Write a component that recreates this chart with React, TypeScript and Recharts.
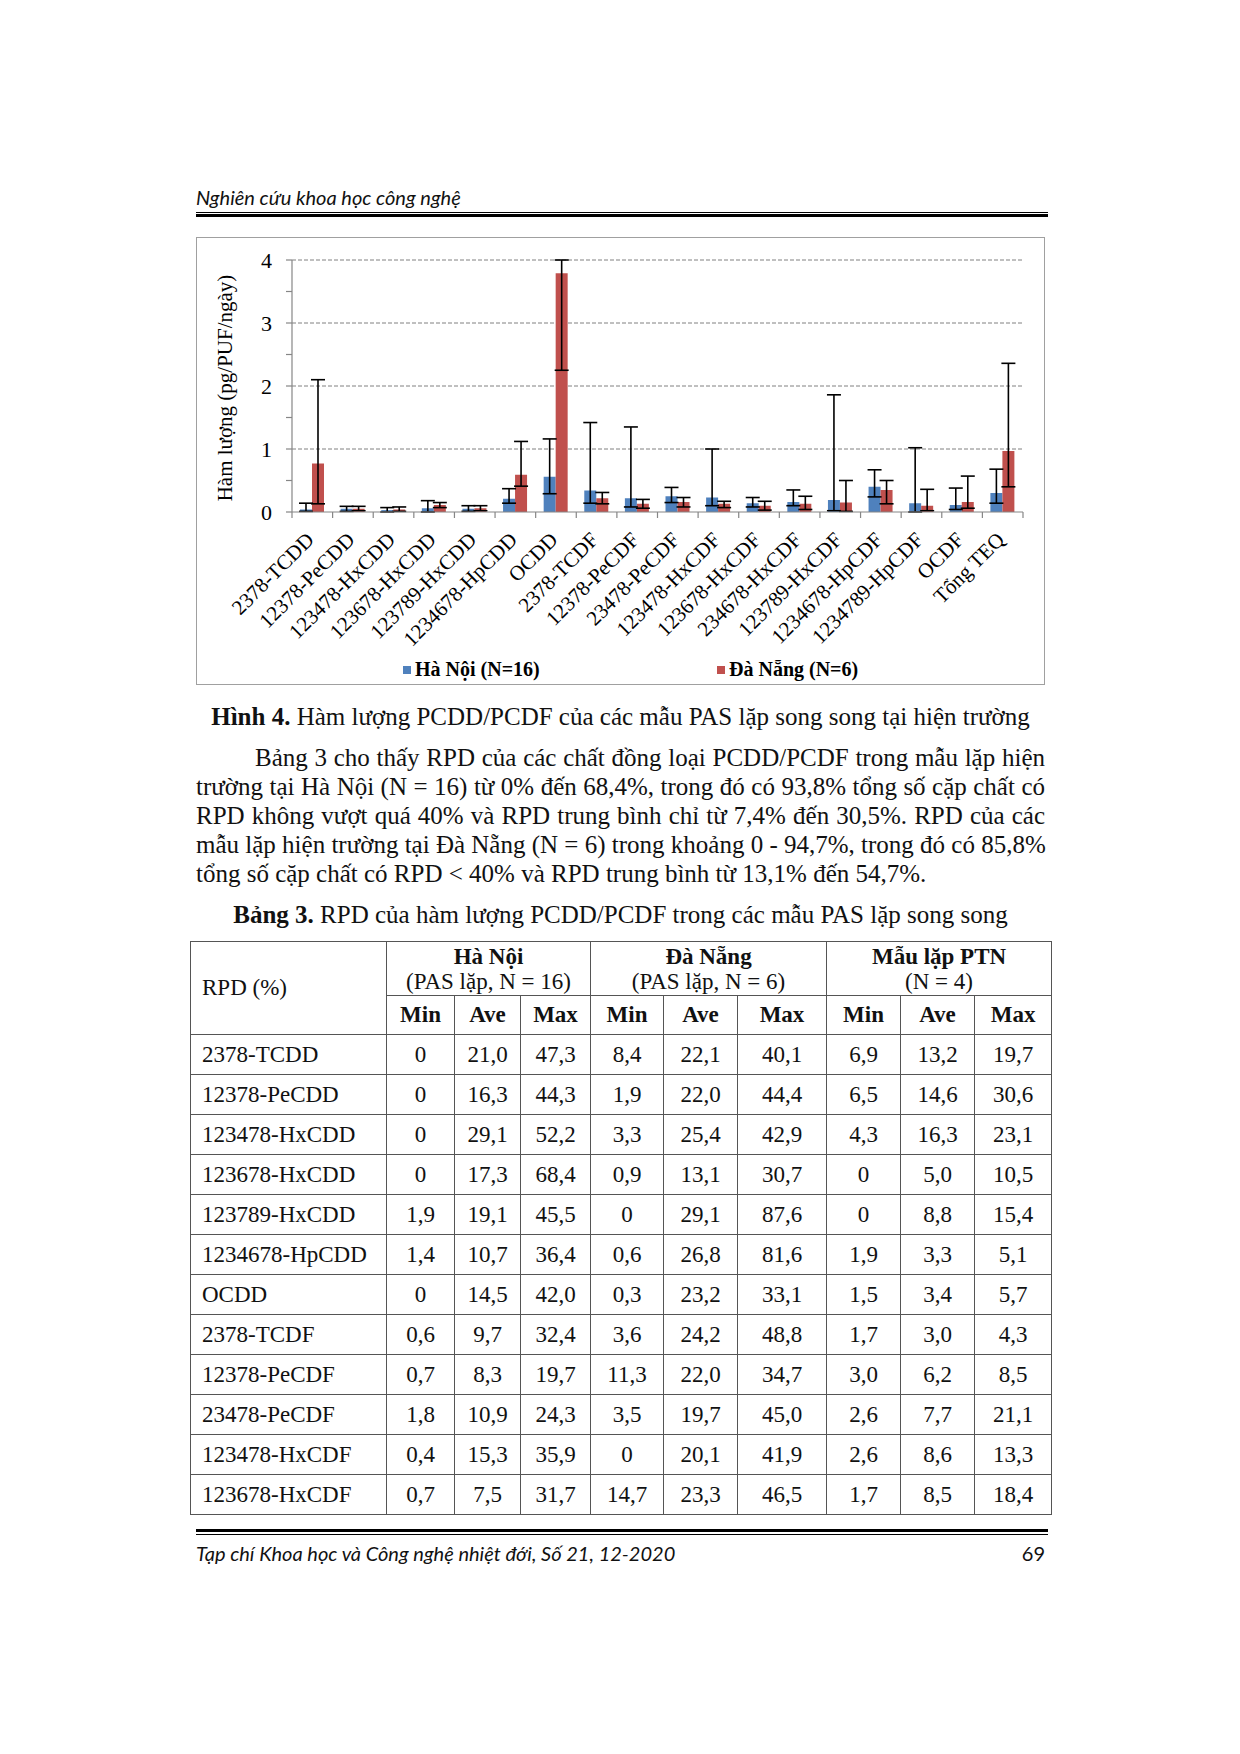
import { BarChart, Bar, XAxis, YAxis, CartesianGrid, ErrorBar, Legend } from "recharts";

const categories = [
  "2378-TCDD", "12378-PeCDD", "123478-HxCDD", "123678-HxCDD", "123789-HxCDD",
  "1234678-HpCDD", "OCDD", "2378-TCDF", "12378-PeCDF", "23478-PeCDF",
  "123478-HxCDF", "123678-HxCDF", "234678-HxCDF", "123789-HxCDF",
  "1234678-HpCDF", "1234789-HpCDF", "OCDF", "Tổng TEQ",
];

// Hà Nội (N=16): mean, lower and upper ends of the error bar
const haNoi = [0.04, 0.05, 0.03, 0.06, 0.05, 0.21, 0.56, 0.34, 0.22, 0.25, 0.23, 0.14, 0.16, 0.19, 0.4, 0.14, 0.11, 0.3];
const haNoiLow = [0.01, 0.01, 0.0, 0.0, 0.01, 0.14, 0.29, 0.14, 0.08, 0.15, 0.1, 0.08, 0.1, 0.02, 0.24, 0.0, 0.04, 0.14];
const haNoiHigh = [0.14, 0.09, 0.07, 0.18, 0.1, 0.37, 1.16, 1.42, 1.35, 0.39, 1.0, 0.23, 0.35, 1.86, 0.67, 1.02, 0.38, 0.68];

// Đà Nẵng (N=6)
const daNang = [0.77, 0.05, 0.04, 0.11, 0.06, 0.59, 3.79, 0.22, 0.13, 0.16, 0.13, 0.1, 0.13, 0.15, 0.35, 0.1, 0.16, 0.97];
const daNangLow = [0.13, 0.02, 0.01, 0.07, 0.02, 0.41, 2.25, 0.13, 0.06, 0.08, 0.07, 0.03, 0.04, 0.01, 0.13, 0.02, 0.06, 0.4];
const daNangHigh = [2.1, 0.09, 0.08, 0.15, 0.1, 1.12, 4.0, 0.31, 0.2, 0.23, 0.17, 0.17, 0.25, 0.5, 0.5, 0.36, 0.57, 2.36];

const yTicks = [0, 0.5, 1, 1.5, 2, 2.5, 3, 3.5, 4];
const gridValues = [1, 2, 3, 4];

const tableLabels = [
  "2378-TCDD", "12378-PeCDD", "123478-HxCDD", "123678-HxCDD", "123789-HxCDD",
  "1234678-HpCDD", "OCDD", "2378-TCDF", "12378-PeCDF", "23478-PeCDF",
  "123478-HxCDF", "123678-HxCDF",
];
const tableHaNoi = [
  ["0", "21,0", "47,3"], ["0", "16,3", "44,3"], ["0", "29,1", "52,2"], ["0", "17,3", "68,4"],
  ["1,9", "19,1", "45,5"], ["1,4", "10,7", "36,4"], ["0", "14,5", "42,0"], ["0,6", "9,7", "32,4"],
  ["0,7", "8,3", "19,7"], ["1,8", "10,9", "24,3"], ["0,4", "15,3", "35,9"], ["0,7", "7,5", "31,7"],
];
const tableDaNang = [
  ["8,4", "22,1", "40,1"], ["1,9", "22,0", "44,4"], ["3,3", "25,4", "42,9"], ["0,9", "13,1", "30,7"],
  ["0", "29,1", "87,6"], ["0,6", "26,8", "81,6"], ["0,3", "23,2", "33,1"], ["3,6", "24,2", "48,8"],
  ["11,3", "22,0", "34,7"], ["3,5", "19,7", "45,0"], ["0", "20,1", "41,9"], ["14,7", "23,3", "46,5"],
];
const tablePTN = [
  ["6,9", "13,2", "19,7"], ["6,5", "14,6", "30,6"], ["4,3", "16,3", "23,1"], ["0", "5,0", "10,5"],
  ["0", "8,8", "15,4"], ["1,9", "3,3", "5,1"], ["1,5", "3,4", "5,7"], ["1,7", "3,0", "4,3"],
  ["3,0", "6,2", "8,5"], ["2,6", "7,7", "21,1"], ["2,6", "8,6", "13,3"], ["1,7", "8,5", "18,4"],
];

const paragraph = [
  "Bảng 3 cho thấy RPD của các chất đồng loại PCDD/PCDF trong mẫu lặp hiện",
  "trường tại Hà Nội (N = 16) từ 0% đến 68,4%, trong đó có 93,8% tổng số cặp chất có",
  "RPD không vượt quá 40% và RPD trung bình chỉ từ 7,4% đến 30,5%. RPD của các",
  "mẫu lặp hiện trường tại Đà Nẵng (N = 6) trong khoảng 0 - 94,7%, trong đó có 85,8%",
  "tổng số cặp chất có RPD < 40% và RPD trung bình từ 13,1% đến 54,7%.",
];

const BLUE = "#4F81BD";
const RED = "#C0504D";
const AXIS = "#868686";
const SERIF = '"Liberation Serif", "Times New Roman", serif';
const SANS = 'Lato, "Open Sans", sans-serif';

const CHART_W = 849;
const CHART_H = 448;
const PLOT_W = 731;
const BAND = PLOT_W / categories.length;

const chartData = categories.map((name, i) => ({
  name,
  haNoi: haNoi[i],
  haNoiErr: [haNoi[i] - haNoiLow[i], haNoiHigh[i] - haNoi[i]],
  daNang: daNang[i],
  daNangErr: [daNang[i] - daNangLow[i], daNangHigh[i] - daNang[i]],
}));

function CategoryTick(props: any) {
  const { x, y, payload, index } = props;
  const last = index === categories.length - 1;
  return (
    <g>
      <line x1={x - BAND / 2} y1={y} x2={x - BAND / 2} y2={y + 6} stroke={AXIS} strokeWidth={1.2} />
      {last && <line x1={x + BAND / 2} y1={y} x2={x + BAND / 2} y2={y + 6} stroke={AXIS} strokeWidth={1.2} />}
      <text
        transform={`translate(${x + 3},${y + 29}) rotate(-45)`}
        textAnchor="end"
        fontSize={21}
        fontFamily={SERIF}
        fill="#000"
      >
        {payload.value}
      </text>
    </g>
  );
}

function YTitle(props: any) {
  const { viewBox } = props;
  const cy = viewBox.y + viewBox.height / 2 + 2;
  return (
    <text
      transform={`translate(36,${cy}) rotate(-90)`}
      textAnchor="middle"
      fontSize={21}
      fontFamily={SERIF}
      fill="#000"
    >
      Hàm lượng (pg/PUF/ngày)
    </text>
  );
}

function LegendBox(props: any) {
  const { payload } = props;
  const lefts = [207, 521];
  return (
    <div style={{ position: "relative", width: CHART_W, height: 40 }}>
      {(payload || []).map((p: any, i: number) => (
        <div
          key={p.value}
          style={{
            position: "absolute",
            left: lefts[i],
            top: 13,
            display: "flex",
            alignItems: "center",
            fontFamily: SERIF,
            fontWeight: "bold",
            fontSize: 20,
            color: "#000",
            whiteSpace: "nowrap",
          }}
        >
          <span style={{ width: 8, height: 8, background: p.color, marginRight: 4, display: "inline-block" }} />
          {p.value}
        </div>
      ))}
    </div>
  );
}

function Chart() {
  return (
    <BarChart
      width={CHART_W}
      height={CHART_H}
      data={chartData}
      margin={{ top: 23, right: 22, left: 0, bottom: 0 }}
      barSize={12}
      barGap={0}
    >
      <CartesianGrid
        vertical={false}
        horizontalValues={gridValues}
        stroke="#808080"
        strokeDasharray="4 2"
      />
      <XAxis
        dataKey="name"
        interval={0}
        height={133}
        axisLine={{ stroke: AXIS, strokeWidth: 1.2 }}
        tickLine={false}
        tickSize={0}
        tickMargin={0}
        tick={<CategoryTick />}
      />
      <YAxis
        width={96}
        domain={[0, 4]}
        ticks={yTicks}
        allowDataOverflow
        tickFormatter={(v: number) => (Number.isInteger(v) ? String(v) : "")}
        axisLine={{ stroke: AXIS, strokeWidth: 1.2 }}
        tickLine={{ stroke: AXIS, strokeWidth: 1.2 }}
        tickSize={6}
        tickMargin={14}
        tick={{ fill: "#000", fontSize: 22, fontFamily: SERIF }}
        label={<YTitle />}
      />
      <Legend verticalAlign="bottom" height={40} content={<LegendBox />} />
      <Bar dataKey="haNoi" name="Hà Nội (N=16)" fill={BLUE} isAnimationActive={false}>
        <ErrorBar dataKey="haNoiErr" direction="y" width={7} stroke="#000" strokeWidth={1.6} />
      </Bar>
      <Bar dataKey="daNang" name="Đà Nẵng (N=6)" fill={RED} isAnimationActive={false}>
        <ErrorBar dataKey="daNangErr" direction="y" width={7} stroke="#000" strokeWidth={1.6} />
      </Bar>
    </BarChart>
  );
}

const cell: React.CSSProperties = {
  border: "1px solid #555",
  padding: 0,
  textAlign: "center",
  verticalAlign: "middle",
};

function RpdTable() {
  const cols = [196, 68, 66, 70, 73, 74, 89, 74, 74, 77];
  const groups = [
    ["Hà Nội", "(PAS lặp, N = 16)"],
    ["Đà Nẵng", "(PAS lặp, N = 6)"],
    ["Mẫu lặp PTN", "(N = 4)"],
  ];
  return (
    <table
      style={{
        position: "absolute",
        left: 190,
        top: 941,
        width: 861,
        borderCollapse: "collapse",
        tableLayout: "fixed",
        fontFamily: SERIF,
        fontSize: 23,
        color: "#111",
        border: "1.5px solid #666",
      }}
    >
      <colgroup>
        {cols.map((w, i) => (
          <col key={i} style={{ width: w }} />
        ))}
      </colgroup>
      <tbody>
        <tr style={{ height: 54 }}>
          <td rowSpan={2} style={{ ...cell, textAlign: "left", paddingLeft: 11 }}>RPD (%)</td>
          {groups.map((g) => (
            <td key={g[0]} colSpan={3} style={{ ...cell, lineHeight: "25px" }}>
              <div style={{ fontWeight: "bold" }}>{g[0]}</div>
              <div>{g[1]}</div>
            </td>
          ))}
        </tr>
        <tr style={{ height: 39 }}>
          {[0, 1, 2].map((g) =>
            ["Min", "Ave", "Max"].map((h) => (
              <td key={g + h} style={{ ...cell, fontWeight: "bold" }}>{h}</td>
            ))
          )}
        </tr>
        {tableLabels.map((label, r) => (
          <tr key={label} style={{ height: 40 }}>
            <td style={{ ...cell, textAlign: "left", paddingLeft: 11 }}>{label}</td>
            {[...tableHaNoi[r], ...tableDaNang[r], ...tablePTN[r]].map((v, c) => (
              <td key={c} style={cell}>{v}</td>
            ))}
          </tr>
        ))}
      </tbody>
    </table>
  );
}

export default function App() {
  return (
    <div
      style={{
        position: "absolute",
        left: 0,
        top: 0,
        width: 1240,
        height: 1754,
        background: "#fff",
        fontFamily: SERIF,
        color: "#111",
        overflow: "hidden",
      }}
    >
      {/* running header */}
      <div style={{ position: "absolute", left: 196, top: 185, fontFamily: SANS, fontStyle: "italic", fontSize: 20, lineHeight: "24px" }}>
        Nghiên cứu khoa học công nghệ
      </div>
      <div style={{ position: "absolute", left: 196, top: 212, width: 852, height: 1, background: "#000" }} />
      <div style={{ position: "absolute", left: 196, top: 214, width: 852, height: 3, background: "#000" }} />

      {/* figure */}
      <div style={{ position: "absolute", left: 196, top: 237, width: CHART_W, height: CHART_H }}>
        <Chart />
      </div>
      <div
        style={{
          position: "absolute",
          left: 196,
          top: 237,
          width: CHART_W,
          height: CHART_H,
          boxSizing: "border-box",
          border: "1.5px solid #a0a0a0",
          pointerEvents: "none",
        }}
      />

      <div style={{ position: "absolute", left: 196, top: 702, width: 849, textAlign: "center", fontSize: 25, lineHeight: "30px" }}>
        <b>Hình 4.</b> Hàm lượng PCDD/PCDF của các mẫu PAS lặp song song tại hiện trường
      </div>

      {paragraph.map((line, i) => {
        const last = i === paragraph.length - 1;
        return (
          <div
            key={i}
            style={{
              position: "absolute",
              left: i === 0 ? 255 : 196,
              top: 743 + i * 29,
              width: i === 0 ? 790 : 849,
              fontSize: 25,
              lineHeight: "30px",
              whiteSpace: "nowrap",
              textAlign: last ? "left" : "justify",
              textAlignLast: last ? "left" : "justify",
            }}
          >
            {line}
          </div>
        );
      })}

      <div style={{ position: "absolute", left: 196, top: 900, width: 849, textAlign: "center", fontSize: 25, lineHeight: "30px" }}>
        <b>Bảng 3.</b> RPD của hàm lượng PCDD/PCDF trong các mẫu PAS lặp song song
      </div>

      <RpdTable />

      {/* running footer */}
      <div style={{ position: "absolute", left: 196, top: 1529, width: 852, height: 3, background: "#000" }} />
      <div style={{ position: "absolute", left: 196, top: 1534, width: 852, height: 1, background: "#000" }} />
      <div style={{ position: "absolute", left: 196, top: 1540, fontFamily: SANS, fontStyle: "italic", fontSize: 20, lineHeight: "26px" }}>
        Tạp chí Khoa học và Công nghệ nhiệt đới, Số 21, 12-2020
      </div>
      <div style={{ position: "absolute", left: 995, top: 1540, width: 50, textAlign: "right", fontFamily: SANS, fontSize: 20, lineHeight: "26px" }}>
        69
      </div>
    </div>
  );
}
